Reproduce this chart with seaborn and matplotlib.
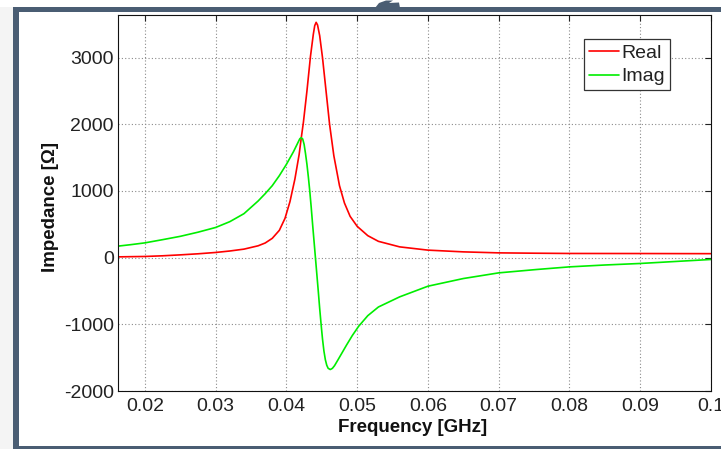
import numpy as np
import pandas as pd
import matplotlib
matplotlib.use("Agg")
import matplotlib.pyplot as plt
from matplotlib.patches import Rectangle, Polygon
import seaborn as sns

# ---------------- data ----------------
freq_real = [0.0162, 0.018, 0.020, 0.0225, 0.025, 0.0275, 0.030, 0.032, 0.034, 0.036,
             0.037, 0.038, 0.039, 0.0398, 0.0405, 0.0412, 0.0418, 0.0421, 0.0424, 0.0429,
             0.0434, 0.0438, 0.0440, 0.0442, 0.0444, 0.0447, 0.0451, 0.0456, 0.0461, 0.0467,
             0.0475, 0.0482, 0.049, 0.050, 0.0515, 0.053, 0.056, 0.060, 0.065, 0.070,
             0.075, 0.080, 0.090, 0.100]
real_vals = [12, 15, 18, 28, 42, 58, 78, 100, 128, 178,
             220, 290, 410, 590, 840, 1180, 1550, 1799, 2030, 2500,
             3020, 3350, 3480, 3530, 3490, 3330, 3000, 2500, 2000, 1530,
             1080, 820, 620, 470, 330, 245, 162, 113, 87, 72,
             67, 63, 62, 60]

freq_imag = [0.0162, 0.018, 0.020, 0.0225, 0.025, 0.0275, 0.030, 0.032, 0.034, 0.036,
             0.037, 0.038, 0.039, 0.040, 0.041, 0.0416, 0.0419, 0.0421, 0.0423, 0.0425,
             0.0427, 0.0429, 0.0431, 0.0433, 0.0435, 0.0437, 0.0439, 0.0441, 0.0443, 0.0445,
             0.0447, 0.0449, 0.0451, 0.0453, 0.0455, 0.0457, 0.0459, 0.0462, 0.0465, 0.0468,
             0.0473, 0.0479, 0.0485, 0.0493, 0.0502, 0.0515, 0.053, 0.056, 0.060, 0.065,
             0.070, 0.0753, 0.080, 0.085, 0.090, 0.095, 0.100]
imag_vals = [173, 195, 222, 270, 320, 382, 453, 540, 660, 850,
             960, 1080, 1230, 1400, 1590, 1720, 1785, 1799, 1780, 1700,
             1560, 1400, 1210, 1000, 760, 500, 250, 0, -250, -500,
             -760, -1000, -1220, -1400, -1530, -1614, -1660, -1678, -1660, -1620,
             -1530, -1420, -1310, -1170, -1030, -870, -740, -588, -428, -313,
             -228, -178, -138, -110, -87, -57, -27]

x_ticks = [0.02, 0.03, 0.04, 0.05, 0.06, 0.07, 0.08, 0.09, 0.1]
x_tick_labels = ["0.02", "0.03", "0.04", "0.05", "0.06", "0.07", "0.08", "0.09", "0.1"]
y_ticks = [-2000, -1000, 0, 1000, 2000, 3000]
y_tick_labels = ["-2000", "-1000", "0", "1000", "2000", "3000"]
series_names = ["Real", "Imag"]

# ---------------- style ----------------
sns.set_style("white")
plt.rcParams["font.family"] = ["Liberation Sans", "DejaVu Sans"]

W, H = 721, 449
fig = plt.figure(figsize=(W / 100, H / 100), dpi=100)
fig.patch.set_facecolor("white")

def px(x0, y0, x1, y1):
    """pixel box (top-left origin) -> figure rect"""
    return [x0 / W, 1 - y1 / H, (x1 - x0) / W, (y1 - y0) / H]

# decorative slide frame
frame_col = "#4a5d73"
fig.patches.append(Rectangle((0, 0), 13 / W, 1 - 7 / H, transform=fig.transFigure,
                             facecolor="#f4f4f4", edgecolor="none", zorder=0))
for (x0, y0, x1, y1) in [(13, 7, 721, 12), (13, 7, 19, 449), (13, 446, 721, 449)]:
    r = px(x0, y0, x1, y1)
    fig.patches.append(Rectangle((r[0], r[1]), r[2], r[3], transform=fig.transFigure,
                                 facecolor=frame_col, edgecolor="none", zorder=1))
blob = [(375, 8), (379, 3), (386, 0.5), (393, 0.5), (389, 3), (399, 2.5), (400, 8)]
fig.patches.append(Polygon([(x / W, 1 - y / H) for x, y in blob], closed=True,
                           transform=fig.transFigure, facecolor=frame_col,
                           edgecolor="none", zorder=1))

ax = fig.add_axes(px(118, 15, 711, 391))
ax.set_facecolor("white")

df_real = pd.DataFrame({"freq": freq_real, "val": real_vals})
df_imag = pd.DataFrame({"freq": freq_imag, "val": imag_vals})
sns.lineplot(data=df_real, x="freq", y="val", ax=ax, color="#ff0000", lw=1.2,
             label=series_names[0], estimator=None, sort=True)
sns.lineplot(data=df_imag, x="freq", y="val", ax=ax, color="#00ee00", lw=1.2,
             label=series_names[1], estimator=None, sort=True)

ax.set_xlim(0.0162, 0.1)
ax.set_ylim(-2000, 3640)
ax.set_xticks(x_ticks)
ax.set_xticklabels(x_tick_labels)
ax.set_yticks(y_ticks)
ax.set_yticklabels(y_tick_labels)

ax.grid(True, which="major", color="#8a8a8a", linestyle=(0, (1, 2)), linewidth=0.8)
ax.set_axisbelow(True)
for s in ax.spines.values():
    s.set_visible(True)
    s.set_color("#111111")
    s.set_linewidth(0.8)

ax.tick_params(axis="both", direction="in", length=4, width=0.8, color="#222222",
               labelsize=14, labelcolor="#222222", top=True, right=True)
ax.tick_params(axis="x", pad=5)
ax.tick_params(axis="y", pad=3)

ax.set_xlabel("Frequency [GHz]", fontsize=13.5, fontweight="bold", color="#111111")
ax.set_ylabel("Impedance [Ω]", fontsize=13.5, fontweight="bold", color="#111111")
ax.xaxis.set_label_coords(0.497, -0.074)
ax.yaxis.set_label_coords(-0.1, 0.49)

leg = ax.legend(loc="upper right", bbox_to_anchor=(0.931, 0.935), borderaxespad=0,
                fontsize=14, frameon=True, fancybox=False, shadow=False,
                handlelength=1.55, handletextpad=0.15, labelspacing=0.3,
                borderpad=0.25)
leg.get_frame().set_edgecolor("#333333")
leg.get_frame().set_linewidth(0.9)
leg.get_frame().set_alpha(1)
for t in leg.get_texts():
    t.set_color("#222222")

fig.savefig("out.png", dpi=100, facecolor=fig.get_facecolor())
